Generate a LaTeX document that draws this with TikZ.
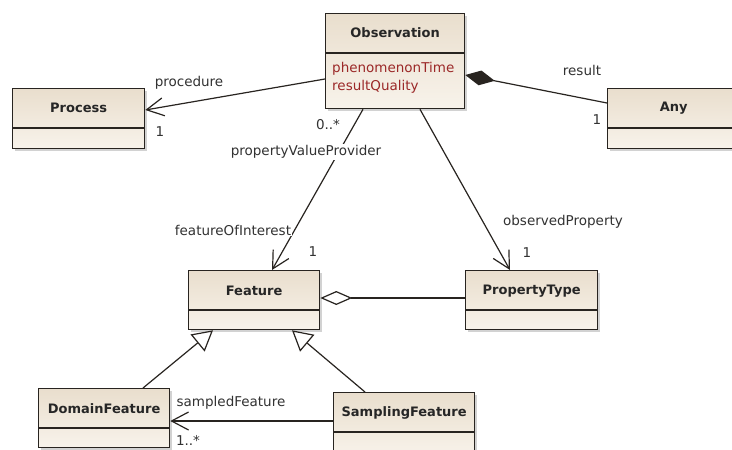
\documentclass[tikz,border=0pt]{standalone}
\usepackage{fontspec}
\setmainfont{DejaVu Sans}
\usetikzlibrary{arrows.meta,shadows,calc}
\definecolor{boxtop}{RGB}{233,222,205}
\definecolor{boxbot}{RGB}{248,243,235}
\definecolor{edgec}{RGB}{40,36,32}
\definecolor{attrc}{RGB}{155,40,40}
\definecolor{lblc}{RGB}{50,50,50}
\begin{document}
\begin{tikzpicture}[x=1pt,y=-1pt,
  classbox/.style={draw=edgec, line width=1.3pt, top color=boxtop, bottom color=boxbot,
    drop shadow={shadow xshift=2.5pt,shadow yshift=-2.5pt,fill=black!35,opacity=0.5},
    inner sep=0pt, anchor=north west},
  classtitle/.style={font=\fontsize{13}{15}\selectfont\bfseries, text=black!85, inner sep=0pt},
  lab/.style={font=\fontsize{13.5}{16}\selectfont, text=lblc, inner sep=1pt},
  attr/.style={lab, text=attrc, anchor=west},
  divider/.style={draw=edgec, line width=1.2pt},
  conn/.style={draw=edgec, line width=1.2pt},
  nav/.style={conn, -{Straight Barb[length=17pt,width=18pt,line width=1.2pt]}},
  gen/.style={conn, -{Triangle[open,length=20pt,width=22pt,fill=white,line width=1.2pt]}},
  comp/.style={conn, {Diamond[length=30pt,width=15pt]}-},
  aggr/.style={conn, {Diamond[open,length=32pt,width=14pt,fill=white,line width=1.2pt]}-}
]
\useasboundingbox (0,0) rectangle (732,450);
\fill[white] (0,0) rectangle (732,450);

% classes
\node[classbox, minimum width=139pt, minimum height=95pt] (obs) at (325,13) {};
\node[classbox, minimum width=132pt, minimum height=60pt] (proc) at (12,88) {};
\node[classbox, minimum width=132pt, minimum height=60pt] (any) at (607,88) {};
\node[classbox, minimum width=131pt, minimum height=59pt] (feat) at (188,270) {};
\node[classbox, minimum width=132pt, minimum height=59pt] (prop) at (465,270) {};
\node[classbox, minimum width=131pt, minimum height=59pt] (dom) at (38,388) {};
\node[classbox, minimum width=141pt, minimum height=64pt] (samp) at (333,392) {};

% dividers
\foreach \n in {obs,proc,any,feat,prop,dom,samp}
  \draw[divider] ($(\n.north west)+(0,40)$) -- ($(\n.north east)+(0,40)$);

% titles
\node[classtitle] (obsT) at ($(obs.north)+(0,20)$) {Observation};
\node[classtitle] (procT) at ($(proc.north)+(0,20)$) {Process};
\node[classtitle] (anyT) at ($(any.north)+(0,20)$) {Any};
\node[classtitle] (featT) at ($(feat.north)+(0,21)$) {Feature};
\node[classtitle] (propT) at ($(prop.north)+(0,21)$) {PropertyType};
\node[classtitle] (domT) at ($(dom.north)+(0,21)$) {DomainFeature};
\node[classtitle] (sampT) at ($(samp.north)+(0,21)$) {SamplingFeature};

% attributes
\node[attr] (obsA1) at ($(obs.north west)+(6,56)$) {phenomenonTime};
\node[attr] (obsA2) at ($(obs.north west)+(6,74)$) {resultQuality};

% connectors
\draw[nav] ($(obs.north west)+(0,66)$) -- ($(proc.north east)+(0,22)$);
\draw[comp] ($(obs.north east)+(0,62)$) -- ($(any.north west)+(0,15)$);
\draw[nav] ($(obs.south west)+(38,0)$) -- ($(feat.north west)+(84,0)$);
\draw[nav] ($(obs.south west)+(95,0)$) -- ($(prop.north west)+(45,0)$);
\draw[aggr] ($(feat.north east)+(0,28)$) -- ($(prop.north west)+(0,28)$);
\draw[gen] ($(dom.north west)+(105,0)$) -- ($(feat.south west)+(25,0)$);
\draw[gen] ($(samp.north west)+(32,0)$) -- ($(feat.south west)+(104,0)$);
\draw[nav] ($(samp.north west)+(0,29)$) -- ($(dom.north east)+(0,33)$);

% labels
\node[lab] (lProc) at (189,83) {procedure};
\node[lab] (lProc1) at (160,132) {1};
\node[lab] (lRes) at (582,70) {result};
\node[lab] (lRes1) at (597,120) {1};
\node[lab] (lMany) at (328,125) {0..*};
\node[lab, fill=white] (lPVP) at (306,152) {propertyValueProvider};
\node[lab, fill=white] (lFoI) at (233,230) {featureOfInterest};
\node[lab] (lFoI1) at (313,252) {1};
\node[lab] (lObsP) at (563,222) {observedProperty};
\node[lab] (lObsP1) at (527,253) {1};
\node[lab] (lSamp) at (231,403) {sampledFeature};
\node[lab] (lSamp1) at (188,440) {1..*};
\end{tikzpicture}
\end{document}
